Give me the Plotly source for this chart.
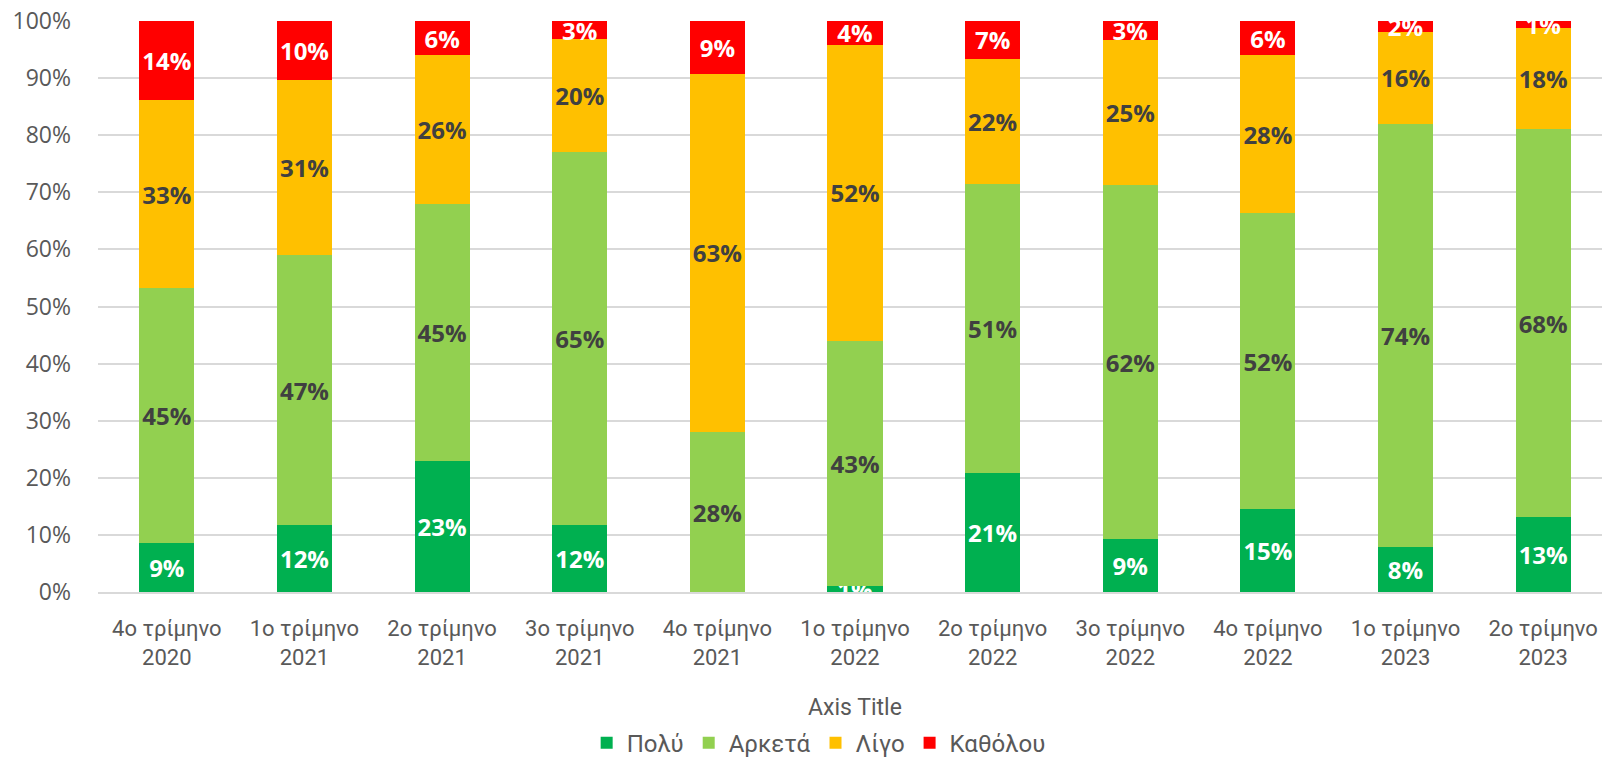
import plotly.graph_objects as go

categories = ["4ο τρίμηνο<br>2020", "1ο τρίμηνο<br>2021", "2ο τρίμηνο<br>2021", "3ο τρίμηνο<br>2021",
              "4ο τρίμηνο<br>2021", "1ο τρίμηνο<br>2022", "2ο τρίμηνο<br>2022", "3ο τρίμηνο<br>2022",
              "4ο τρίμηνο<br>2022", "1ο τρίμηνο<br>2023", "2ο τρίμηνο<br>2023"]

poly = [8.6, 11.7, 22.9, 11.8, 0.0, 1.0, 20.8, 9.2, 14.6, 7.8, 13.2]
arketa = [44.6, 47.3, 45.0, 65.2, 28.0, 43.0, 50.7, 62.0, 51.7, 74.2, 67.8]
ligo = [33.0, 30.7, 26.1, 19.8, 62.8, 51.8, 21.9, 25.4, 27.7, 16.1, 17.8]
katholou = [13.8, 10.3, 6.0, 3.2, 9.2, 4.2, 6.6, 3.4, 6.0, 1.9, 1.2]

series = [
    ("Πολύ", poly, "#00B050", "white"),
    ("Αρκετά", arketa, "#92D050", "#404040"),
    ("Λίγο", ligo, "#FFC000", "#404040"),
    ("Καθόλου", katholou, "#FF0000", "white"),
]

LABEL_FONT = "Open Sans"
AXIS_FONT = "Roboto"

fig = go.Figure()
for name, vals, color, tcolor in series:
    fig.add_trace(go.Bar(
        name=name, x=categories, y=vals,
        marker=dict(color=color, line=dict(width=0)),
        text=[f"{round(v)}%" if v > 0.5 else "" for v in vals],
        textposition="inside", insidetextanchor="middle", textangle=0,
        constraintext="none",
        textfont=dict(family=LABEL_FONT, size=24, color=tcolor, weight="bold"),
        hoverinfo="skip",
    ))

fig.update_layout(
    barmode="stack",
    bargap=0.6,
    width=1610, height=757,
    margin=dict(l=90, r=6, t=13, b=173),
    plot_bgcolor="white", paper_bgcolor="white",
    font=dict(family=AXIS_FONT, color="#595959"),
    legend=dict(orientation="h", x=0.476, xanchor="center",
                yref="container", y=0.029, yanchor="middle",
                font=dict(family=AXIS_FONT, size=24, color="#595959"), traceorder="normal",
                itemwidth=30, tracegroupgap=0),
    showlegend=True,
)
fig.update_xaxes(
    automargin=False,
    showgrid=False, showline=True, linecolor="#D9D9D9", linewidth=2,
    ticks="", tickfont=dict(family=AXIS_FONT, size=22, color="#595959"),
    ticklabelstandoff=16,
    title=dict(text="Axis Title", font=dict(family=AXIS_FONT, size=23, color="#595959"), standoff=36),
)
fig.update_yaxes(
    automargin=False,
    range=[0, 100], dtick=10, ticksuffix="%",
    showgrid=True, gridcolor="#D9D9D9", gridwidth=2,
    zeroline=False, showline=False, ticks="",
    tickfont=dict(family="Open Sans", size=23, color="#595959"),
    ticklabelstandoff=26, ticklabeloverflow="allow",
)

fig.write_html("out.html")
